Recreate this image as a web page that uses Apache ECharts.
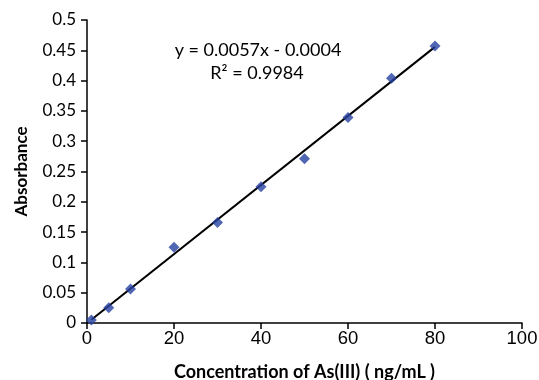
<!DOCTYPE html>
<html>
<head>
<meta charset="utf-8">
<script src="https://cdn.jsdelivr.net/npm/echarts@6/dist/echarts.min.js"></script>
<style>
    html, body { margin: 0; padding: 0; background: #fff; }
    #chart { width: 539px; height: 380px; }
</style>
</head>
<body>
<div id="chart"></div>
<script>
// 浓度 (ng/mL) 与吸光度
const concentration = [1, 5, 10, 20, 30, 40, 50, 60, 70, 80]
const absorbance = [0.005, 0.025, 0.056, 0.125, 0.166, 0.225, 0.271, 0.339, 0.404, 0.457]
// 趋势线两端
const trendX = [1, 80]
const trendY = [0.0053, 0.4556]
const equationText = 'y = 0.0057x - 0.0004'
const r2Text = 'R² = 0.9984'

const points = concentration.map((x, i) => [x, absorbance[i]])
const trend = trendX.map((x, i) => [x, trendY[i]])

let myChart = echarts.init(document.getElementById('chart'))
let option = {
    animation: false,
    grid: {
        left: 87,
        right: 17,
        top: 20,
        bottom: 57,
        outerBoundsMode: 'none'
    },
    xAxis: {
        type: 'value',
        min: 0,
        max: 100,
        interval: 20,
        name: 'Concentration of As(III) ( ng/mL )',
        nameLocation: 'middle',
        nameGap: 40,
        nameTextStyle: {
            fontFamily: 'Lato',
            fontWeight: 'bold',
            fontSize: 18,
            color: '#000'
        },
        axisLine: { show: true, lineStyle: { color: '#000', width: 1.5 } },
        axisTick: { show: true, length: 6, lineStyle: { color: '#000', width: 1.5 } },
        axisLabel: {
            fontFamily: 'Liberation Sans',
            fontSize: 18.5,
            color: '#000',
            margin: 6
        },
        splitLine: { show: false }
    },
    yAxis: {
        type: 'value',
        min: 0,
        max: 0.5,
        interval: 0.05,
        name: 'Absorbance',
        nameLocation: 'middle',
        nameGap: 57,
        nameTextStyle: {
            fontFamily: 'Lato',
            fontWeight: 'bold',
            fontSize: 17,
            color: '#000'
        },
        axisLine: { show: true, lineStyle: { color: '#000', width: 1.5 } },
        axisTick: { show: true, length: 6, lineStyle: { color: '#000', width: 1.5 } },
        axisLabel: {
            fontFamily: 'Lato',
            fontSize: 17,
            color: '#000',
            margin: 11
        },
        splitLine: { show: false }
    },
    graphic: [
        {
            type: 'text',
            x: 258,
            y: 50,
            style: {
                text: equationText,
                align: 'center',
                verticalAlign: 'middle',
                fontFamily: 'Lato',
                fontSize: 18,
                fill: '#000'
            }
        },
        {
            type: 'text',
            x: 257,
            y: 73,
            style: {
                text: r2Text,
                align: 'center',
                verticalAlign: 'middle',
                fontFamily: 'Lato',
                fontSize: 18,
                fill: '#000'
            }
        }
    ],
    series: [
        {
            type: 'line',
            data: trend,
            symbol: 'none',
            lineStyle: { color: '#000', width: 2 },
            z: 2
        },
        {
            type: 'scatter',
            data: points,
            symbol: 'diamond',
            symbolSize: [11, 11],
            itemStyle: { color: '#2541a0' },
            z: 3
        }
    ]
}
myChart.setOption(option, true)
window.addEventListener('resize', () => {
    myChart.resize()
})
</script>
</body>
</html>
